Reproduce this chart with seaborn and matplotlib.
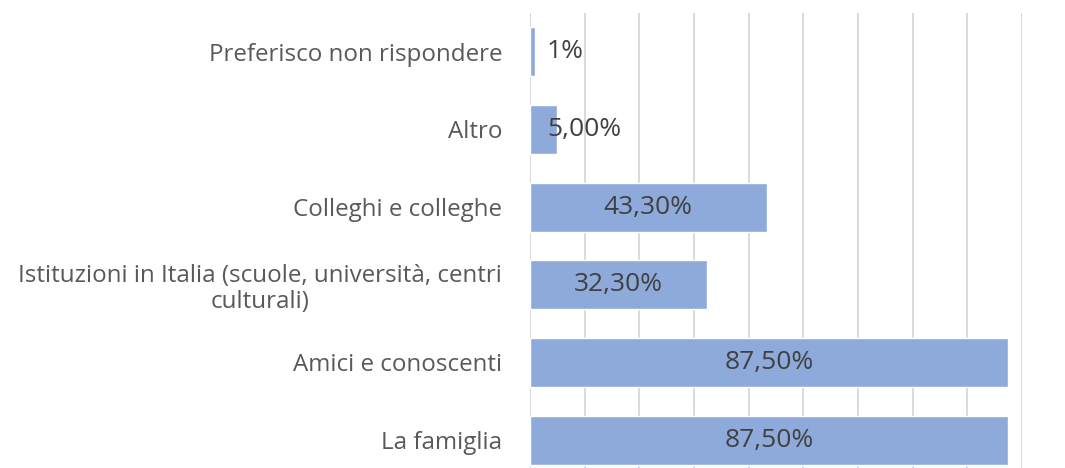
"""Horizontal bar chart: fonti di informazione."""
import matplotlib
matplotlib.use("Agg")
import matplotlib.pyplot as plt
import pandas as pd
import seaborn as sns

categories = [
    "Preferisco non rispondere",
    "Altro",
    "Colleghi e colleghe",
    "Istituzioni in Italia (scuole, università, centri\nculturali)",
    "Amici e conoscenti",
    "La famiglia",
]
values = [0.01, 0.05, 0.433, 0.323, 0.875, 0.875]
value_labels = ["1%", "5,00%", "43,30%", "32,30%", "87,50%", "87,50%"]
grid_ticks = [0.0, 0.1, 0.2, 0.3, 0.4, 0.5, 0.6, 0.7, 0.8, 0.9]

sns.set_theme(style="white")
plt.rcParams["font.family"] = ["Open Sans", "DejaVu Sans"]

df = pd.DataFrame({"cat": categories, "val": values})

fig = plt.figure(figsize=(10.65, 4.68), dpi=100)
ax = fig.add_axes([530 / 1065, 0.0, (1022 - 530) / 1065, 1 - 13 / 468])

sns.barplot(data=df, y="cat", x="val", orient="h", color="#8eaadb",
            saturation=1, width=0.63, ax=ax)

ax.set_xlim(0, 0.9)
ax.set_ylim(5.36, -0.5)
ax.set_xticks(grid_ticks)
ax.set_xticklabels([])
ax.xaxis.grid(True, color="#d9d9d9", lw=1.4)
ax.yaxis.grid(False)
ax.set_axisbelow(True)
for s in ax.spines.values():
    s.set_visible(False)
ax.tick_params(axis="both", length=0)
ax.tick_params(axis="y", pad=20, labelsize=17.4, labelcolor="#595959")
for lab in ax.get_yticklabels():
    lab.set_multialignment("center")
    lab.set_linespacing(1.1)
ax.set_xlabel("")
ax.set_ylabel("")

for i, (v, t) in enumerate(zip(values, value_labels)):
    if v >= 0.1:
        ax.text(v / 2, i, t, ha="center", va="center", fontsize=19, color="#404040")
    else:
        ax.text(0.031, i, t, ha="left", va="center", fontsize=19, color="#404040")

fig.savefig("out.png", dpi=100)
